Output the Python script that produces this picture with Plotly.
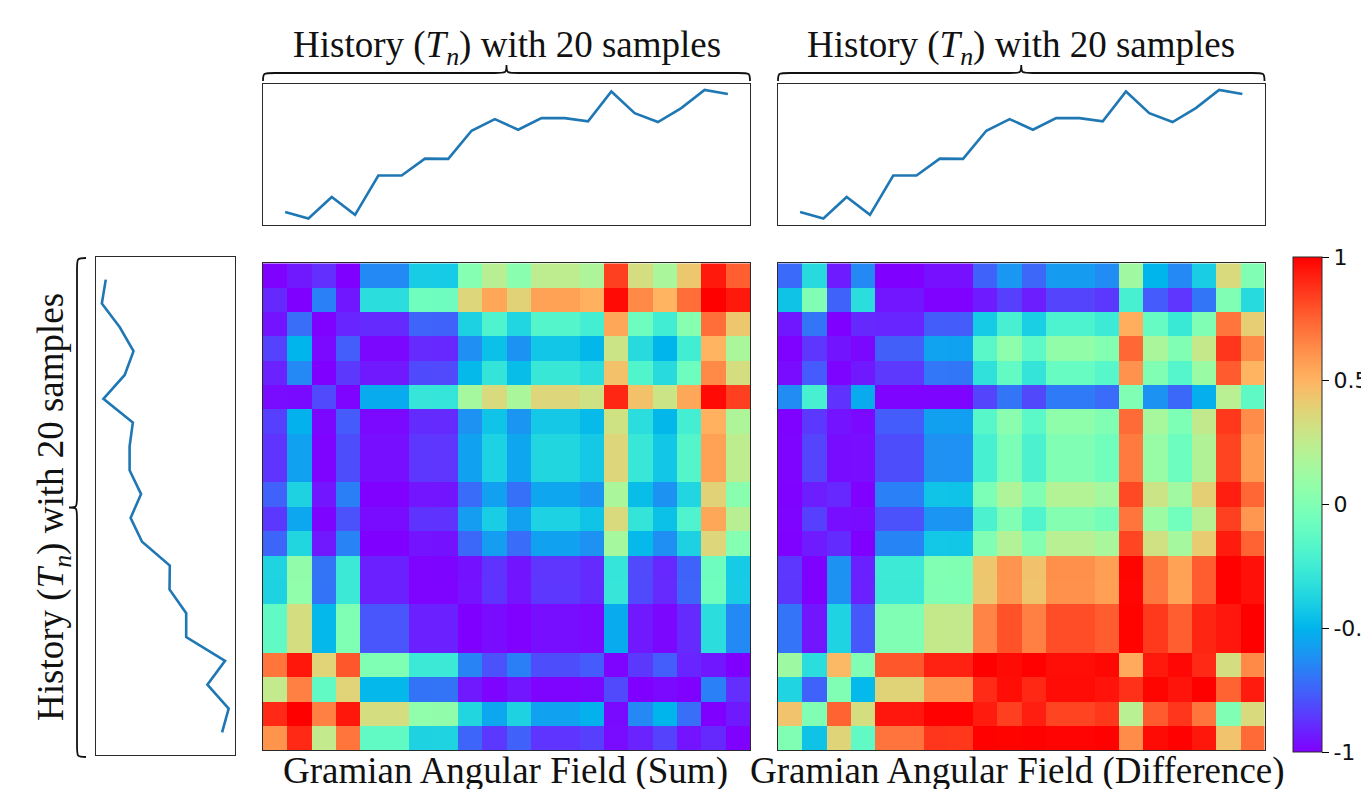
import numpy as np
import plotly.graph_objects as go

W, H = 1361, 789

# ---------------- data ----------------
sample_index = list(range(20))
history_values = [12.4, 5.7, 27.4, 9.4, 49.0, 49.0, 66.0, 65.7, 94.0, 105.7,
                  95.0, 106.7, 106.7, 103.4, 133.4, 111.7, 102.7, 116.7, 135.0, 131.0]
title_text = "History (<i>T<sub>n</sub></i>) with 20 samples"
sum_label = "Gramian Angular Field (Sum)"
diff_label = "Gramian Angular Field (Difference)"
cbar_tickvals = [-1, -0.5, 0, 0.5, 1]
cbar_ticktext = ["-1", "-0.5", "0", "0.5", "1"]

# ---------------- Gramian angular fields of the series ----------------
v = np.array(history_values, dtype=float)
xs = np.clip(2 * (v - v.min()) / (v.max() - v.min()) - 1, -1, 1)
phi = np.arccos(xs)
gasf = np.cos(phi[:, None] + phi[None, :])
gadf = np.sin(phi[:, None] - phi[None, :])

# matplotlib "rainbow" colormap as a plotly colorscale
def rainbow(t):
    r = min(1.0, abs(2 * t - 0.5))
    g = np.sin(np.pi * t)
    b = np.cos(np.pi * t / 2)
    return "rgb(%d,%d,%d)" % (round(r * 255), round(max(g, 0) * 255), round(max(b, 0) * 255))

rainbow_scale = [[i / 32, rainbow(i / 32)] for i in range(33)]

# ---------------- helpers for layout in window pixels ----------------
def px(x):
    return x / W

def py(y):
    return 1 - y / H

def xd(a, b):
    return [px(a), px(b)]

def yd(top, bottom):
    return [py(bottom), py(top)]

LINE_BLUE = "#1f77b4"
FRAME = "#2a2a2a"

fig = go.Figure()

# top line plots
fig.add_trace(go.Scatter(x=sample_index, y=history_values, mode="lines",
                         line=dict(color=LINE_BLUE, width=2.6), xaxis="x", yaxis="y",
                         showlegend=False, hoverinfo="skip"))
fig.add_trace(go.Scatter(x=sample_index, y=history_values, mode="lines",
                         line=dict(color=LINE_BLUE, width=2.6), xaxis="x2", yaxis="y2",
                         showlegend=False, hoverinfo="skip"))
# heatmaps
fig.add_trace(go.Heatmap(z=gasf, x=sample_index, y=sample_index, coloraxis="coloraxis",
                         xaxis="x3", yaxis="y3", hoverinfo="skip"))
fig.add_trace(go.Heatmap(z=gadf, x=sample_index, y=sample_index, coloraxis="coloraxis",
                         xaxis="x4", yaxis="y4", hoverinfo="skip"))
# left (rotated) line plot
fig.add_trace(go.Scatter(x=history_values, y=sample_index, mode="lines",
                         line=dict(color=LINE_BLUE, width=2.6), xaxis="x5", yaxis="y5",
                         showlegend=False, hoverinfo="skip"))

vmin, vmax = min(history_values), max(history_values)
pad = 0.05 * (vmax - vmin)
idx_range = [-0.95, 19.95]
val_range = [vmin - pad, vmax + pad]

def ax(domain, rng, anchor):
    return dict(domain=domain, range=rng, anchor=anchor, showgrid=False, zeroline=False,
                showticklabels=False, ticks="", showline=True, mirror=True,
                linecolor=FRAME, linewidth=1.2, fixedrange=True)

TL_X = xd(263, 750)
TR_X = xd(778, 1264.5)
TOP_Y = yd(83.5, 225)
HM_Y = yd(263.3, 750)
LEFT_X = xd(95.5, 235)
LEFT_Y = yd(257, 755)

fig.update_layout(
    xaxis=ax(TL_X, idx_range, "y"), yaxis=ax(TOP_Y, val_range, "x"),
    xaxis2=ax(TR_X, idx_range, "y2"), yaxis2=ax(TOP_Y, val_range, "x2"),
    xaxis3=ax(TL_X, [-0.5, 19.5], "y3"), yaxis3=ax(HM_Y, [-0.5, 19.5], "x3"),
    xaxis4=ax(TR_X, [-0.5, 19.5], "y4"), yaxis4=ax(HM_Y, [-0.5, 19.5], "x4"),
    xaxis5=ax(LEFT_X, val_range[::-1], "y5"), yaxis5=ax(LEFT_Y, idx_range, "x5"),
)

fig.update_layout(
    coloraxis=dict(
        colorscale=rainbow_scale, cmin=-1, cmax=1,
        colorbar=dict(
            x=px(1293), xanchor="left", xpad=0, y=py(504.5), yanchor="middle", ypad=0,
            len=495, lenmode="pixels", thickness=29, thicknessmode="pixels",
            outlinewidth=1, outlinecolor=FRAME,
            tickvals=cbar_tickvals, ticktext=cbar_ticktext,
            ticks="outside", ticklen=7, tickwidth=1, tickcolor="black",
            tickfont=dict(family="DejaVu Sans", size=22, color="#111"),
        ),
    )
)

# ---------------- braces ----------------
def top_brace(x0, x1, yb, ys, yt, r=12):
    xm = (x0 + x1) / 2
    pts = [
        "M %f,%f" % (px(x0), py(yb)),
        "C %f,%f %f,%f %f,%f" % (px(x0), py(ys), px(x0), py(ys), px(x0 + r), py(ys)),
        "L %f,%f" % (px(xm - r), py(ys)),
        "C %f,%f %f,%f %f,%f" % (px(xm), py(ys), px(xm), py(ys), px(xm), py(yt)),
        "C %f,%f %f,%f %f,%f" % (px(xm), py(ys), px(xm), py(ys), px(xm + r), py(ys)),
        "L %f,%f" % (px(x1 - r), py(ys)),
        "C %f,%f %f,%f %f,%f" % (px(x1), py(ys), px(x1), py(ys), px(x1), py(yb)),
    ]
    return " ".join(pts)

def left_brace(y0, y1, xb, xs_, xt, r=12):
    ym = (y0 + y1) / 2
    pts = [
        "M %f,%f" % (px(xb), py(y0)),
        "C %f,%f %f,%f %f,%f" % (px(xs_), py(y0), px(xs_), py(y0), px(xs_), py(y0 + r)),
        "L %f,%f" % (px(xs_), py(ym - r)),
        "C %f,%f %f,%f %f,%f" % (px(xs_), py(ym), px(xs_), py(ym), px(xt), py(ym)),
        "C %f,%f %f,%f %f,%f" % (px(xs_), py(ym), px(xs_), py(ym), px(xs_), py(ym + r)),
        "L %f,%f" % (px(xs_), py(y1 - r)),
        "C %f,%f %f,%f %f,%f" % (px(xs_), py(y1), px(xs_), py(y1), px(xb), py(y1)),
    ]
    return " ".join(pts)

brace_line = dict(color="#111", width=1.8)
shapes = [
    dict(type="path", xref="paper", yref="paper", path=top_brace(263, 750, 81, 73, 65), line=brace_line),
    dict(type="path", xref="paper", yref="paper", path=top_brace(778, 1264.5, 81, 73, 65), line=brace_line),
    dict(type="path", xref="paper", yref="paper", path=left_brace(258, 757, 86, 77, 69), line=brace_line),
]

SERIF = "Liberation Serif"
annotations = [
    dict(text=title_text, x=px(506.5), y=py(48), xref="paper", yref="paper",
         xanchor="center", yanchor="middle", showarrow=False,
         font=dict(family=SERIF, size=37, color="#111")),
    dict(text=title_text, x=px(1021), y=py(48), xref="paper", yref="paper",
         xanchor="center", yanchor="middle", showarrow=False,
         font=dict(family=SERIF, size=37, color="#111")),
    dict(text=title_text, x=px(53), y=py(507), xref="paper", yref="paper",
         xanchor="center", yanchor="middle", showarrow=False, textangle=-90,
         font=dict(family=SERIF, size=37, color="#111")),
    dict(text=sum_label, x=px(505), y=py(771), xref="paper", yref="paper",
         xanchor="center", yanchor="middle", showarrow=False,
         font=dict(family=SERIF, size=37, color="#111")),
    dict(text=diff_label, x=px(1017.5), y=py(771), xref="paper", yref="paper",
         xanchor="center", yanchor="middle", showarrow=False,
         font=dict(family=SERIF, size=37, color="#111")),
]

fig.update_layout(
    width=W, height=H, margin=dict(l=0, r=0, t=0, b=0, autoexpand=False),
    paper_bgcolor="white", plot_bgcolor="white",
    shapes=shapes, annotations=annotations, showlegend=False,
)

# remove the default 8 px page margin so the figure fills the window exactly
fig.write_html("out.html", config={"displayModeBar": False},
               post_script="document.body.style.margin='0';document.body.style.overflow='hidden';")
